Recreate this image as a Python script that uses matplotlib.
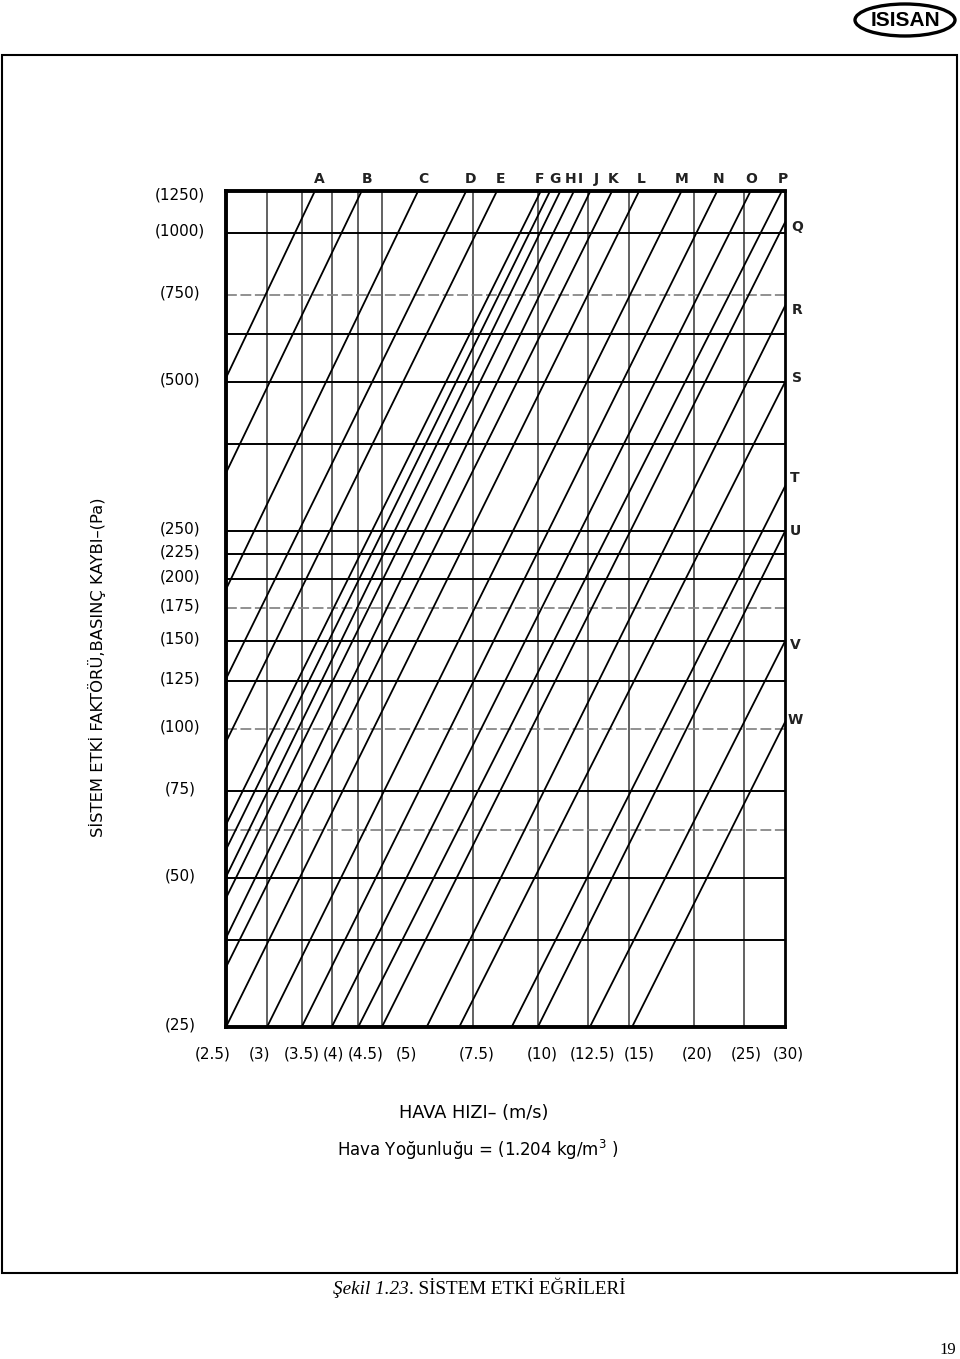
import matplotlib
matplotlib.use('Agg')
import matplotlib.pyplot as plt
import matplotlib.ticker as mticker
from matplotlib.patches import Ellipse, Rectangle

# hava hizi (m/s) ekseni
hiz_ticks = [2.5, 3, 3.5, 4, 4.5, 5, 7.5, 10, 12.5, 15, 20, 25, 30]
hiz_labels = ['(2.5)', '(3)', '(3.5)', '(4)', '(4.5)', '(5)', '(7.5)', '(10)',
              '(12.5)', '(15)', '(20)', '(25)', '(30)']

# basinc kaybi (Pa) ekseni
basinc_ticks = [25, 50, 75, 100, 125, 150, 175, 200, 225, 250, 500, 750, 1000, 1250]
basinc_labels = ['(25)', '(50)', '(75)', '(100)', '(125)', '(150)', '(175)', '(200)',
                 '(225)', '(250)', '(500)', '(750)', '(1000)', '(1250)']
basinc_grid = [37.5, 50, 62.5, 75, 100, 125, 150, 175, 200, 225, 250, 375, 500, 625, 750, 1000]
soluk_grid = [62.5, 100, 175, 750]

# sistem etki egrileri: baslangic (sol / alt kenar) ve bitis (ust / sag kenar)
egri_harf = list('ABCDEFGHIJKLMNOPQRSTUVW')
v_bas = [2.5, 2.5, 2.5, 2.5, 2.5, 2.5, 2.5, 2.5, 2.5, 2.5, 2.5,
         2.5, 3, 3.5, 4, 4.5, 5, 6.1, 7.05, 8.9, 10.0, 12.6, 15.2]
p_bas = [510, 328, 191, 126, 94, 64, 57, 50.2, 45.5, 37.8, 33,
         25, 25, 25, 25, 25, 25, 25, 25, 25, 25, 25, 25]
v_bit = [3.76, 4.63, 5.95, 7.37, 8.45, 10.27, 10.7, 11.2, 11.9, 12.8, 14.1,
         15.9, 19.2, 22.5, 26.1, 30, 30, 30, 30, 30, 30, 30, 30]
p_bit = [1250, 1250, 1250, 1250, 1250, 1250, 1250, 1250, 1250, 1250, 1250,
         1250, 1250, 1250, 1250, 1250, 1050, 712, 500, 308, 250, 150, 103]

# harf etiketlerinin kaydirmasi (piksel)
harf_dx = [2, 2, 2, 1, 1, -4, 2, 7, 3, 3, -2, -1, -3, -2, -2, -2,
           12, 12, 12, 10, 10, 10, 10]
harf_dy = [12, 12, 12, 12, 12, 12, 12, 12, 12, 12, 12, 12, 12, 12, 12, 12,
           -5, -4, 4, 8, 0, -4, 2]

W, H = 960, 1359
fig = plt.figure(figsize=(W / 100, H / 100), dpi=100)
ax = fig.add_axes([226 / W, 1 - 1027 / H, (785 - 226) / W, (1027 - 191) / H])
ax.set_xscale('log')
ax.set_yscale('log')
ax.set_xlim(2.5, 30)
ax.set_ylim(25, 1215)
for a in (ax.xaxis, ax.yaxis):
    a.set_major_locator(mticker.NullLocator())
    a.set_minor_locator(mticker.NullLocator())

for v in hiz_ticks[1:-1]:
    ax.axvline(v, color='#555555', lw=1.3, zorder=1)
for p in basinc_grid:
    if p in soluk_grid:
        ax.axhline(p, color='#888888', lw=1.3, ls=(0, (6, 2)), zorder=1)
    else:
        ax.axhline(p, color='black', lw=1.4, zorder=1)

for i in range(len(egri_harf)):
    ax.plot([v_bas[i], v_bit[i]], [p_bas[i], p_bit[i]], color='black', lw=1.3, zorder=2)
    if p_bit[i] >= 1250:
        xy, kor = (v_bit[i], 1), ax.get_xaxis_transform()
    else:
        xy, kor = (v_bit[i], p_bit[i]), 'data'
    ax.annotate(egri_harf[i], xy, xycoords=kor, xytext=(harf_dx[i], harf_dy[i]),
                textcoords='offset pixels', ha='center', va='center', fontsize=10,
                fontweight='bold', color='#222222')

for s in ('left', 'bottom', 'top'):
    ax.spines[s].set_linewidth(2.8)
ax.spines['right'].set_linewidth(2.0)

# eksen etiketleri
x_kay = [-13, -8, 0, 2, 7, 25, 4, 4, 4, 10, 3, 2, 3]
for v, lab, dx in zip(hiz_ticks, hiz_labels, x_kay):
    ax.annotate(lab, (v, 0), xycoords=ax.get_xaxis_transform(), xytext=(dx, -27),
                textcoords='offset pixels', ha='center', va='center', fontsize=11)
for p, lab in zip(basinc_ticks, basinc_labels):
    dy = -10 if p == 1250 else 2
    ax.annotate(lab, (0, p), xycoords=ax.get_yaxis_transform(), xytext=(-46, dy),
                textcoords='offset pixels', ha='center', va='center', fontsize=11,
                annotation_clip=False)

fig.text(97 / W, 1 - 667 / H, 'SİSTEM ETKİ FAKTÖRÜ,BASINÇ KAYBI–(Pa)', rotation=90,
         ha='center', va='center', fontsize=11.8)
fig.text(474 / W, 1 - 1113 / H, 'HAVA HIZI– (m/s)', ha='center', va='center', fontsize=12.8)
fig.text(478 / W, 1 - 1150 / H, 'Hava Yoğunluğu = (1.204 kg/m$^3$ )', ha='center',
         va='center', fontsize=12)

# sayfa cercevesi, logo, baslik
fig.patches.append(Rectangle((2 / W, 1 - 1273 / H), 955 / W, (1273 - 55) / H,
                             transform=fig.transFigure, fill=False, lw=1.5, ec='black'))
fig.patches.append(Ellipse((905 / W, 1 - 20 / H), 100 / W, 32 / H, transform=fig.transFigure,
                           fill=False, lw=2.4, ec='black'))
fig.text(905 / W, 1 - 21 / H, 'ISISAN', ha='center', va='center', fontsize=15,
         fontweight='heavy', family='Liberation Sans')

t1 = fig.text(333 / W, 1 - 1290 / H, 'Şekil 1.23', ha='left', va='center', fontsize=13.8,
              family='Liberation Serif', style='italic')
fig.canvas.draw()
bb = t1.get_window_extent()
fig.text(bb.x1 / W, 1 - 1290 / H, '. SİSTEM ETKİ EĞRİLERİ', ha='left', va='center',
         fontsize=13.8, family='Liberation Serif')
fig.text(948 / W, 1 - 1350 / H, '19', ha='center', va='center', fontsize=12,
         family='Liberation Serif')

fig.savefig('out.png', dpi=100)
